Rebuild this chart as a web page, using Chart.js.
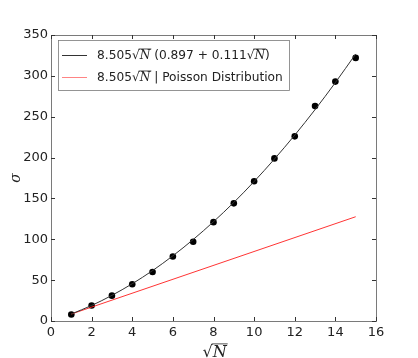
<!DOCTYPE html>
<html>
<head>
<meta charset="utf-8">
<script src="https://cdn.jsdelivr.net/npm/chart.js@4"></script>
<style>
  html, body { margin: 0; padding: 0; background: #fff; }
  #wrap { width: 418px; height: 358px; }
</style>
</head>
<body>
<div id="wrap"><canvas id="c"></canvas></div>
<script>
// valeurs
const sqrtN = [1, 2, 3, 4, 5, 6, 7, 8, 9, 10, 11, 12, 13, 14, 15];
const measured = [8, 19, 31, 45, 60, 79, 97, 121, 144, 171, 199, 226, 263, 293, 322];
const fitCurve = [8.6, 19.0, 31.4, 45.6, 61.7, 79.8, 99.7, 121.5, 145.1, 170.7, 198.2, 227.5, 258.7, 291.8, 326.8];
const poissonX = [1, 15];
const poissonY = [8.5, 127.6];
const xTicks = [0, 2, 4, 6, 8, 10, 12, 14, 16];
const yTicks = [0, 50, 100, 150, 200, 250, 300, 350];

const toPts = (xs, ys) => xs.map((x, i) => ({ x: x, y: ys[i] }));

// petit helper pour écrire "√N" avec la barre au-dessus
const drawMath = (ctx, x, y, parts, size) => {
    parts.forEach(p => {
        ctx.font = p.it ? 'italic ' + size + 'px "DejaVu Serif"' : size + 'px "DejaVu Sans"';
        ctx.fillText(p.t, x, y);
        const w = ctx.measureText(p.t).width;
        if (p.ol) {
            ctx.beginPath();
            ctx.moveTo(x - 1, y - size * 0.82);
            ctx.lineTo(x + w + 1, y - size * 0.82);
            ctx.lineWidth = 0.8;
            ctx.stroke();
        }
        x += w;
    });
    return x;
};

const framePlugin = {
    id: 'frame',
    afterDraw(chart) {
        const ctx = chart.ctx;
        const a = chart.chartArea;
        const xs = chart.scales.x, ys = chart.scales.y;
        ctx.save();
        ctx.strokeStyle = '#7a7a7a';
        ctx.lineWidth = 1;
        ctx.strokeRect(Math.round(a.left) + 0.5, Math.round(a.top) + 0.5, Math.round(a.right - a.left), Math.round(a.bottom - a.top));

        // ticks vers l'intérieur sur les 4 côtés
        ctx.strokeStyle = '#333';
        ctx.beginPath();
        xTicks.forEach(t => {
            const px = Math.round(xs.getPixelForValue(t)) + 0.5;
            ctx.moveTo(px, a.bottom); ctx.lineTo(px, a.bottom - 4);
            ctx.moveTo(px, a.top); ctx.lineTo(px, a.top + 4);
        });
        yTicks.forEach(t => {
            const py = Math.round(ys.getPixelForValue(t)) + 0.5;
            ctx.moveTo(a.left, py); ctx.lineTo(a.left + 4, py);
            ctx.moveTo(a.right, py); ctx.lineTo(a.right - 4, py);
        });
        ctx.stroke();

        // titres des axes
        ctx.fillStyle = '#222';
        ctx.strokeStyle = '#222';
        ctx.textBaseline = 'alphabetic';
        ctx.textAlign = 'left';
        drawMath(ctx, (a.left + a.right) / 2 - 11, 357, [{ t: '√' }, { t: 'N', it: true, ol: true }], 16);

        ctx.save();
        ctx.translate(20, (a.top + a.bottom) / 2);
        ctx.rotate(-Math.PI / 2);
        ctx.font = 'italic 14px "DejaVu Serif"';
        ctx.textAlign = 'center';
        ctx.fillText('σ', 0, 0);
        ctx.restore();

        // légende
        const lx = 58, ly = 40, lw = 231, lh = 50;
        ctx.fillStyle = '#fff';
        ctx.fillRect(lx, ly, lw, lh);
        ctx.strokeStyle = '#7a7a7a';
        ctx.strokeRect(lx + 0.5, ly + 0.5, lw, lh);

        const rows = [
            { color: '#333', y: 55, parts: [{ t: '8.505√' }, { t: 'N', it: true, ol: true }, { t: ' (0.897 + 0.111√' }, { t: 'N', it: true, ol: true }, { t: ')' }] },
            { color: 'rgba(255,80,80,0.7)', y: 77, parts: [{ t: '8.505√' }, { t: 'N', it: true, ol: true }, { t: ' | Poisson Distribution' }] }
        ];
        rows.forEach(r => {
            ctx.strokeStyle = r.color;
            ctx.lineWidth = 1;
            ctx.beginPath();
            ctx.moveTo(62, r.y + 0.5); ctx.lineTo(87, r.y + 0.5);
            ctx.stroke();
            ctx.fillStyle = '#222';
            ctx.strokeStyle = '#222';
            drawMath(ctx, 97, r.y + 4, r.parts, 12.2);
        });
        ctx.restore();
    }
};

Chart.defaults.font.family = '"DejaVu Sans"';

new Chart(document.getElementById('c'), {
    type: 'scatter',
    data: {
        datasets: [
            {
                data: toPts(sqrtN, fitCurve),
                showLine: true,
                borderColor: '#333',
                borderWidth: 1,
                pointRadius: 0,
                cubicInterpolationMode: 'monotone'
            },
            {
                data: toPts(poissonX, poissonY),
                showLine: true,
                borderColor: 'rgba(255,30,30,0.9)',
                borderWidth: 1,
                pointRadius: 0
            },
            {
                data: toPts(sqrtN, measured),
                showLine: false,
                pointRadius: 3.3,
                pointBackgroundColor: '#000',
                pointBorderColor: '#000',
                pointBorderWidth: 0
            }
        ]
    },
    options: {
        responsive: true,
        maintainAspectRatio: false,
        animation: false,
        layout: { padding: { top: 35, right: 42, left: 0, bottom: 0 } },
        plugins: { legend: { display: false }, tooltip: { enabled: false } },
        scales: {
            x: {
                type: 'linear', min: 0, max: 16,
                afterBuildTicks: s => { s.ticks = xTicks.map(v => ({ value: v })); },
                afterFit: s => { s.height = 37; },
                grid: { display: false, drawTicks: false },
                border: { display: false },
                ticks: { color: '#222', font: { size: 13 }, padding: 4, maxRotation: 0 }
            },
            y: {
                type: 'linear', min: 0, max: 350,
                afterBuildTicks: s => { s.ticks = yTicks.map(v => ({ value: v })); },
                afterFit: s => { s.width = 51; },
                grid: { display: false, drawTicks: false },
                border: { display: false },
                ticks: { color: '#222', font: { size: 13 }, padding: 3 }
            }
        }
    },
    plugins: [framePlugin]
});
</script>
</body>
</html>
